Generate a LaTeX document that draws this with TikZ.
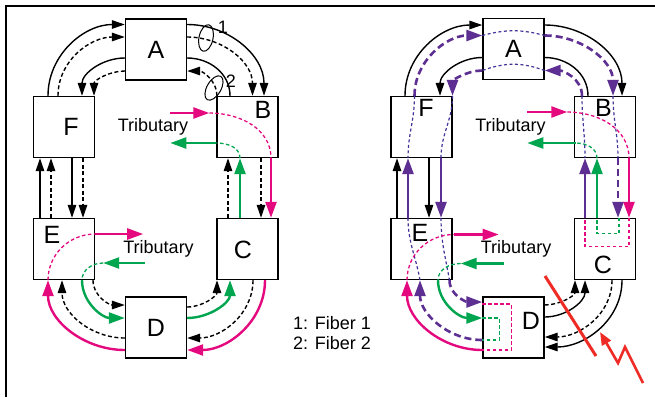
\documentclass[tikz,border=0pt]{standalone}
\usepackage{fontspec}
\setmainfont{Liberation Sans}
\usepackage{tikz}
\usetikzlibrary{shapes.geometric, arrows.meta, positioning, calc}
\definecolor{tribmagenta}{HTML}{E5097F}
\definecolor{tribgreen}{HTML}{00A550}
\definecolor{protpurple}{HTML}{5E2F93}
\definecolor{passpurple}{HTML}{40339A}
\definecolor{breakred}{HTML}{EE2B24}

\begin{document}
\begin{tikzpicture}[
    x=1pt, y=1pt,
    % ── Node styles ──────────────────────────────────────────────────────
    ringnode/.style={
        draw, fill=white, line width=1.4pt,
        minimum width=61pt, minimum height=61pt, inner sep=0pt
    },
    nodeletter/.style={font=\fontsize{25}{25}\selectfont, inner sep=0pt},
    tribtext/.style={font=\fontsize{18}{20}\selectfont, inner sep=0pt},
    keytext/.style={
        font=\fontsize{18}{20}\selectfont, inner sep=0pt, align=left
    },
    fibermark/.style={
        draw, ellipse, line width=1pt, inner sep=0pt,
        minimum width=14pt, minimum height=27pt
    },
    % ── Line styles ──────────────────────────────────────────────────────
    fiber/.style={line width=1.4pt, color=black},
    fiberdash/.style={fiber, dash pattern=on 4pt off 2.5pt},
    magline/.style={line width=2.4pt, color=tribmagenta},
    grnline/.style={line width=2.4pt, color=tribgreen},
    magpass/.style={line width=1.3pt, color=tribmagenta,
        dash pattern=on 3.5pt off 2.5pt},
    grnpass/.style={line width=1.3pt, color=tribgreen,
        dash pattern=on 3.5pt off 2.5pt},
    protline/.style={line width=2.6pt, color=protpurple},
    protdash/.style={protline, dash pattern=on 7pt off 4pt},
    protpass/.style={line width=1.2pt, color=passpurple,
        dash pattern=on 3pt off 2.5pt},
    breakline/.style={line width=3pt, color=breakred},
    % ── Arrow tips ───────────────────────────────────────────────────────
    arr/.style={-{Triangle[length=13pt, width=8.5pt]}},
    carr/.style={-{Triangle[length=16pt, width=11pt]}}
]

\useasboundingbox (0,0) rectangle (655,-397);
\fill[white] (0,0) rectangle (655,-397);
\draw[line width=1.8pt] (655,-5.8) -- (5.8,-5.8) -- (5.8,-397);

% ═══════════════════════════════════════════════════════════════════════════
% 1. Ring in normal operation (left)
% ═══════════════════════════════════════════════════════════════════════════
\node[ringnode, label={[nodeletter]center:A}] (okA) at (156,-49.5) {};
\node[ringnode, label={[nodeletter, xshift=7pt]center:F}] (okF) at (64,-127) {};
\node[ringnode, label={[nodeletter, xshift=15.5pt, yshift=17pt]center:B}] (okB) at (247.5,-127) {};
\node[ringnode, label={[nodeletter, xshift=-12pt, yshift=14pt]center:E}] (okE) at (64,-249) {};
\node[ringnode, label={[nodeletter, xshift=-4.5pt, yshift=-1pt]center:C}] (okC) at (247.5,-249) {};
\node[ringnode, label={[nodeletter]center:D}] (okD) at (156,-327.5) {};

% F -- A
\draw[fiber, arr] ($(okF.north)+(-16,0)$) to[out=90,in=180] ($(okA.west)+(0,25)$);
\draw[fiberdash, arr] ($(okF.north)+(-6,0)$) to[out=90,in=180] ($(okA.west)+(0,12.5)$);
\draw[fiber, arr] ($(okA.west)+(0,-8.5)$) to[out=180,in=90] ($(okF.north)+(18,0)$);
\draw[fiberdash, arr] ($(okA.west)+(0,-21.5)$) to[out=180,in=90] ($(okF.north)+(30,0)$);

% A -- B
\draw[fiber, arr] ($(okA.east)+(0,25)$) to[out=0,in=90] ($(okB.north)+(16.5,0)$);
\draw[fiberdash, arr] ($(okA.east)+(0,12.5)$) to[out=0,in=90] ($(okB.north)+(5,0)$);
\draw[fiber] ($(okB.north)+(-17.5,0)$) to[out=90,in=0] ($(okA.east)+(0,-8.5)$);
\draw[fiberdash, arr] ($(okB.north)+(-30.5,0)$) to[out=90,in=0] ($(okA.east)+(0,-21.5)$);

% B -- C
\draw[fiberdash, arr] ($(okC.north)+(-19.5,0)$) -- ($(okB.south)+(-19.5,0)$);
\draw[grnline, carr] ($(okC.north)+(-7.5,0)$) -- ($(okB.south)+(-7.5,0)$);
\draw[fiberdash, arr] ($(okB.south)+(13.5,0)$) -- ($(okC.north)+(13.5,0)$);
\draw[magline, carr] ($(okB.south)+(23.5,0)$) -- ($(okC.north)+(23.5,0)$);

% C -- D
\draw[fiberdash, arr] ($(okD.east)+(0,20.5)$) to[out=0,in=-90] ($(okC.south)+(-30.5,0)$);
\draw[grnline, carr] ($(okD.east)+(0,9.5)$) to[out=0,in=-90] ($(okC.south)+(-17.5,0)$);
\draw[fiberdash, arr] ($(okC.south)+(5.5,0)$) to[out=-90,in=0] ($(okD.east)+(0,-10.5)$);
\draw[magline, carr] ($(okC.south)+(17.5,0)$) to[out=-90,in=0] ($(okD.east)+(0,-22.5)$);

% D -- E
\draw[fiberdash, arr] ($(okE.south)+(29,0)$) to[out=-90,in=180] ($(okD.west)+(0,22.5)$);
\draw[grnline, carr] ($(okE.south)+(18,0)$) to[out=-90,in=180] ($(okD.west)+(0,9.5)$);
\draw[fiberdash, arr] ($(okD.west)+(0,-10.5)$) to[out=180,in=-90] ($(okE.south)+(-2,0)$);
\draw[magline, carr] ($(okD.west)+(0,-22.5)$) to[out=180,in=-90] ($(okE.south)+(-16,0)$);

% E -- F
\draw[fiber, arr] ($(okE.north)+(-24,0)$) -- ($(okF.south)+(-24,0)$);
\draw[fiberdash, arr] ($(okE.north)+(-13,0)$) -- ($(okF.south)+(-13,0)$);
\draw[fiber, arr] ($(okF.south)+(8,0)$) -- ($(okE.north)+(8,0)$);
\draw[fiberdash, arr] ($(okF.south)+(19,0)$) -- ($(okE.north)+(19,0)$);

% Tributaries at B and E
\node[tribtext, left=28pt of okB] (okTribB) {Tributary};
\node[tribtext, right=28pt of okE] (okTribE) {Tributary};
\draw[magline, carr] ($(okB.west)+(-46,14)$) -- ($(okB.west)+(-7,14)$);
\draw[magpass] ($(okB.west)+(-7,14)$) to[out=0,in=90] ($(okB.south)+(23.5,0)$);
\draw[grnline, carr] ($(okB.west)+(0,-16)$) -- ($(okB.west)+(-46,-16)$);
\draw[grnpass] ($(okB.south)+(-7.5,0)$) to[out=90,in=0] ($(okB.west)+(0,-16)$);
\draw[magpass] ($(okE.south)+(-16,0)$) to[out=90,in=180] ($(okE.east)+(0,15)$);
\draw[magline, carr] ($(okE.east)+(0,15)$) -- ($(okE.east)+(48,15)$);
\draw[grnline, carr] ($(okE.east)+(50,-14)$) -- ($(okE.east)+(8,-14)$);
\draw[grnpass] ($(okE.east)+(8,-14)$) to[out=180,in=90] ($(okE.south)+(18,0)$);

% Fiber marks
\node[fibermark, rotate=-12] (markone) at (206,-38) {};
\node[tribtext] (markonetext) at (223,-27) {1};
\node[fibermark, rotate=-30] (marktwo) at (214,-88) {};
\node[tribtext] (marktwotext) at (231,-81) {2};

\node[keytext, anchor=west] (fiberkey) at (293,-333) {1: Fiber 1\\2: Fiber 2};

% ═══════════════════════════════════════════════════════════════════════════
% 2. Ring with the C -- D span cut (right)
% ═══════════════════════════════════════════════════════════════════════════
\node[ringnode, label={[nodeletter]center:A}] (cutA) at (513.5,-49) {};
\node[ringnode, label={[nodeletter, xshift=4.5pt, yshift=19pt]center:F}] (cutF) at (421.5,-127) {};
\node[ringnode, label={[nodeletter, xshift=-1.5pt, yshift=19pt]center:B}] (cutB) at (605,-127) {};
\node[ringnode, label={[nodeletter, xshift=-1.5pt, yshift=16pt]center:E}] (cutE) at (421.5,-249) {};
\node[ringnode, label={[nodeletter, xshift=-2pt, yshift=-16pt]center:C}] (cutC) at (605,-249) {};
\node[ringnode, label={[nodeletter, xshift=17.5pt, yshift=7pt]center:D}] (cutD) at (513.5,-327.5) {};

% F -- A
\draw[fiber, arr] ($(cutF.north)+(-16.5,0)$) to[out=90,in=180] ($(cutA.west)+(0,24)$);
\draw[protdash, carr] ($(cutF.north)+(-7,0)$) to[out=90,in=180] ($(cutA.west)+(0,13.5)$);
\draw[fiber, arr] ($(cutA.west)+(0,-8.5)$) to[out=180,in=90] ($(cutF.north)+(18.5,0)$);
\draw[protdash, carr] ($(cutA.west)+(0,-21.5)$) to[out=180,in=90] ($(cutF.north)+(31,0)$);
\draw[protpass] ($(cutF.north)+(-7,0)$) to[out=-90,in=90] ($(cutF.south)+(-13.5,0)$);
\draw[protpass] ($(cutF.north)+(31,0)$) to[out=-90,in=90] ($(cutF.south)+(19.5,0)$);

% through A
\draw[protpass] ($(cutA.west)+(0,13.5)$) to[out=15,in=165] ($(cutA.east)+(0,13.5)$);
\draw[protpass] ($(cutA.east)+(0,-21.5)$) to[out=160,in=20] ($(cutA.west)+(0,-21.5)$);

% A -- B
\draw[fiber, arr] ($(cutA.east)+(0,24)$) to[out=0,in=90] ($(cutB.north)+(17,0)$);
\draw[protdash, carr] ($(cutA.east)+(0,13.5)$) to[out=0,in=90] ($(cutB.north)+(8,0)$);
\draw[fiber] ($(cutB.north)+(-17,0)$) to[out=90,in=0] ($(cutA.east)+(0,-8.5)$);
\draw[protdash, carr] ($(cutB.north)+(-23,0)$) to[out=90,in=0] ($(cutA.east)+(0,-21.5)$);
\draw[protpass] ($(cutB.north)+(8,0)$) to[out=-90,in=90] ($(cutB.south)+(13,0)$);
\draw[protpass] ($(cutB.north)+(-23,0)$) to[out=-90,in=90] ($(cutB.south)+(-20,0)$);

% B -- C
\draw[protline, carr] ($(cutC.north)+(-20,0)$) -- ($(cutB.south)+(-20,0)$);
\draw[grnline, carr] ($(cutC.north)+(-8,0)$) -- ($(cutB.south)+(-8,0)$);
\draw[protdash, carr] ($(cutB.south)+(13,0)$) -- ($(cutC.north)+(13,0)$);
\draw[magline, carr] ($(cutB.south)+(24,0)$) -- ($(cutC.north)+(24,0)$);

% loop back in C
\draw[magpass] ($(cutC.north)+(24,0)$) -- ++(0,-29) -| ($(cutC.north)+(-20,0)$);
\draw[grnpass] ($(cutC.north)+(14,0)$) -- ++(0,-16) -| ($(cutC.north)+(-8,0)$);

% C -- D
\draw[fiberdash, arr] ($(cutD.east)+(0,22.5)$) to[out=0,in=-90] ($(cutC.south)+(-30,0)$);
\draw[fiber, arr] ($(cutD.east)+(0,10.5)$) to[out=0,in=-90] ($(cutC.south)+(-20,0)$);
\draw[fiberdash, arr] ($(cutC.south)+(7,0)$) to[out=-90,in=0] ($(cutD.east)+(0,-9.5)$);
\draw[fiber, arr] ($(cutC.south)+(17,0)$) to[out=-90,in=0] ($(cutD.east)+(0,-19.5)$);

% loop back in D
\draw[magpass] ($(cutD.west)+(0,23.5)$) -- ++(29,0) |- ($(cutD.west)+(0,-22.5)$);
\draw[grnpass] ($(cutD.west)+(0,9.5)$) -- ++(17,0) |- ($(cutD.west)+(0,-12.5)$);

% D -- E
\draw[protdash, carr] ($(cutE.south)+(28,0)$) to[out=-90,in=180] ($(cutD.west)+(0,25.5)$);
\draw[grnline, carr] ($(cutE.south)+(16.5,0)$) to[out=-90,in=180] ($(cutD.west)+(0,9.5)$);
\draw[protdash, carr] ($(cutD.west)+(0,-12.5)$) to[out=180,in=-90] ($(cutE.south)+(-1.5,0)$);
\draw[magline, carr] ($(cutD.west)+(0,-22.5)$) to[out=180,in=-90] ($(cutE.south)+(-14.5,0)$);
\draw[protpass] ($(cutE.north)+(19.5,0)$) to[out=-90,in=100] ($(cutE.south)+(28,0)$);
\draw[protpass] ($(cutE.north)+(-13.5,0)$) to[out=-90,in=100] ($(cutE.south)+(-1.5,0)$);

% E -- F
\draw[fiber, arr] ($(cutE.north)+(-24.5,0)$) -- ($(cutF.south)+(-24.5,0)$);
\draw[protline, carr] ($(cutE.north)+(-13.5,0)$) -- ($(cutF.south)+(-13.5,0)$);
\draw[fiber, arr] ($(cutF.south)+(7.5,0)$) -- ($(cutE.north)+(7.5,0)$);
\draw[protline, carr] ($(cutF.south)+(19.5,0)$) -- ($(cutE.north)+(19.5,0)$);

% Tributaries at B and E
\node[tribtext, left=28pt of cutB] (cutTribB) {Tributary};
\node[tribtext, right=28pt of cutE] (cutTribE) {Tributary};
\draw[magline, carr] ($(cutB.west)+(-46.5,15)$) -- ($(cutB.west)+(-6.5,15)$);
\draw[magpass] ($(cutB.west)+(-6.5,15)$) to[out=0,in=90] ($(cutB.south)+(24,0)$);
\draw[grnline, carr] ($(cutB.west)+(2,-16)$) -- ($(cutB.west)+(-46.5,-16)$);
\draw[grnpass] ($(cutB.south)+(-8,0)$) to[out=90,in=0] ($(cutB.west)+(2,-16)$);
\draw[magpass] ($(cutE.south)+(-14.5,0)$) to[out=90,in=180] ($(cutE.east)+(1,14.5)$);
\draw[magline, carr] ($(cutE.east)+(1,14.5)$) -- ($(cutE.east)+(46,14.5)$);
\draw[grnline, carr] ($(cutE.east)+(51,-14.5)$) -- ($(cutE.east)+(8,-14.5)$);
\draw[grnpass] ($(cutE.east)+(8,-14.5)$) to[out=180,in=90] ($(cutE.south)+(16.5,0)$);

% Fiber cut
\draw[breakline] (545,-276) -- (596,-356);
\draw[breakline, line width=2.6pt, -{Triangle[length=13pt, width=10pt]}]
    (643,-383) -- (625,-347) -- (618,-363) -- (600,-332);

\end{tikzpicture}
\end{document}
